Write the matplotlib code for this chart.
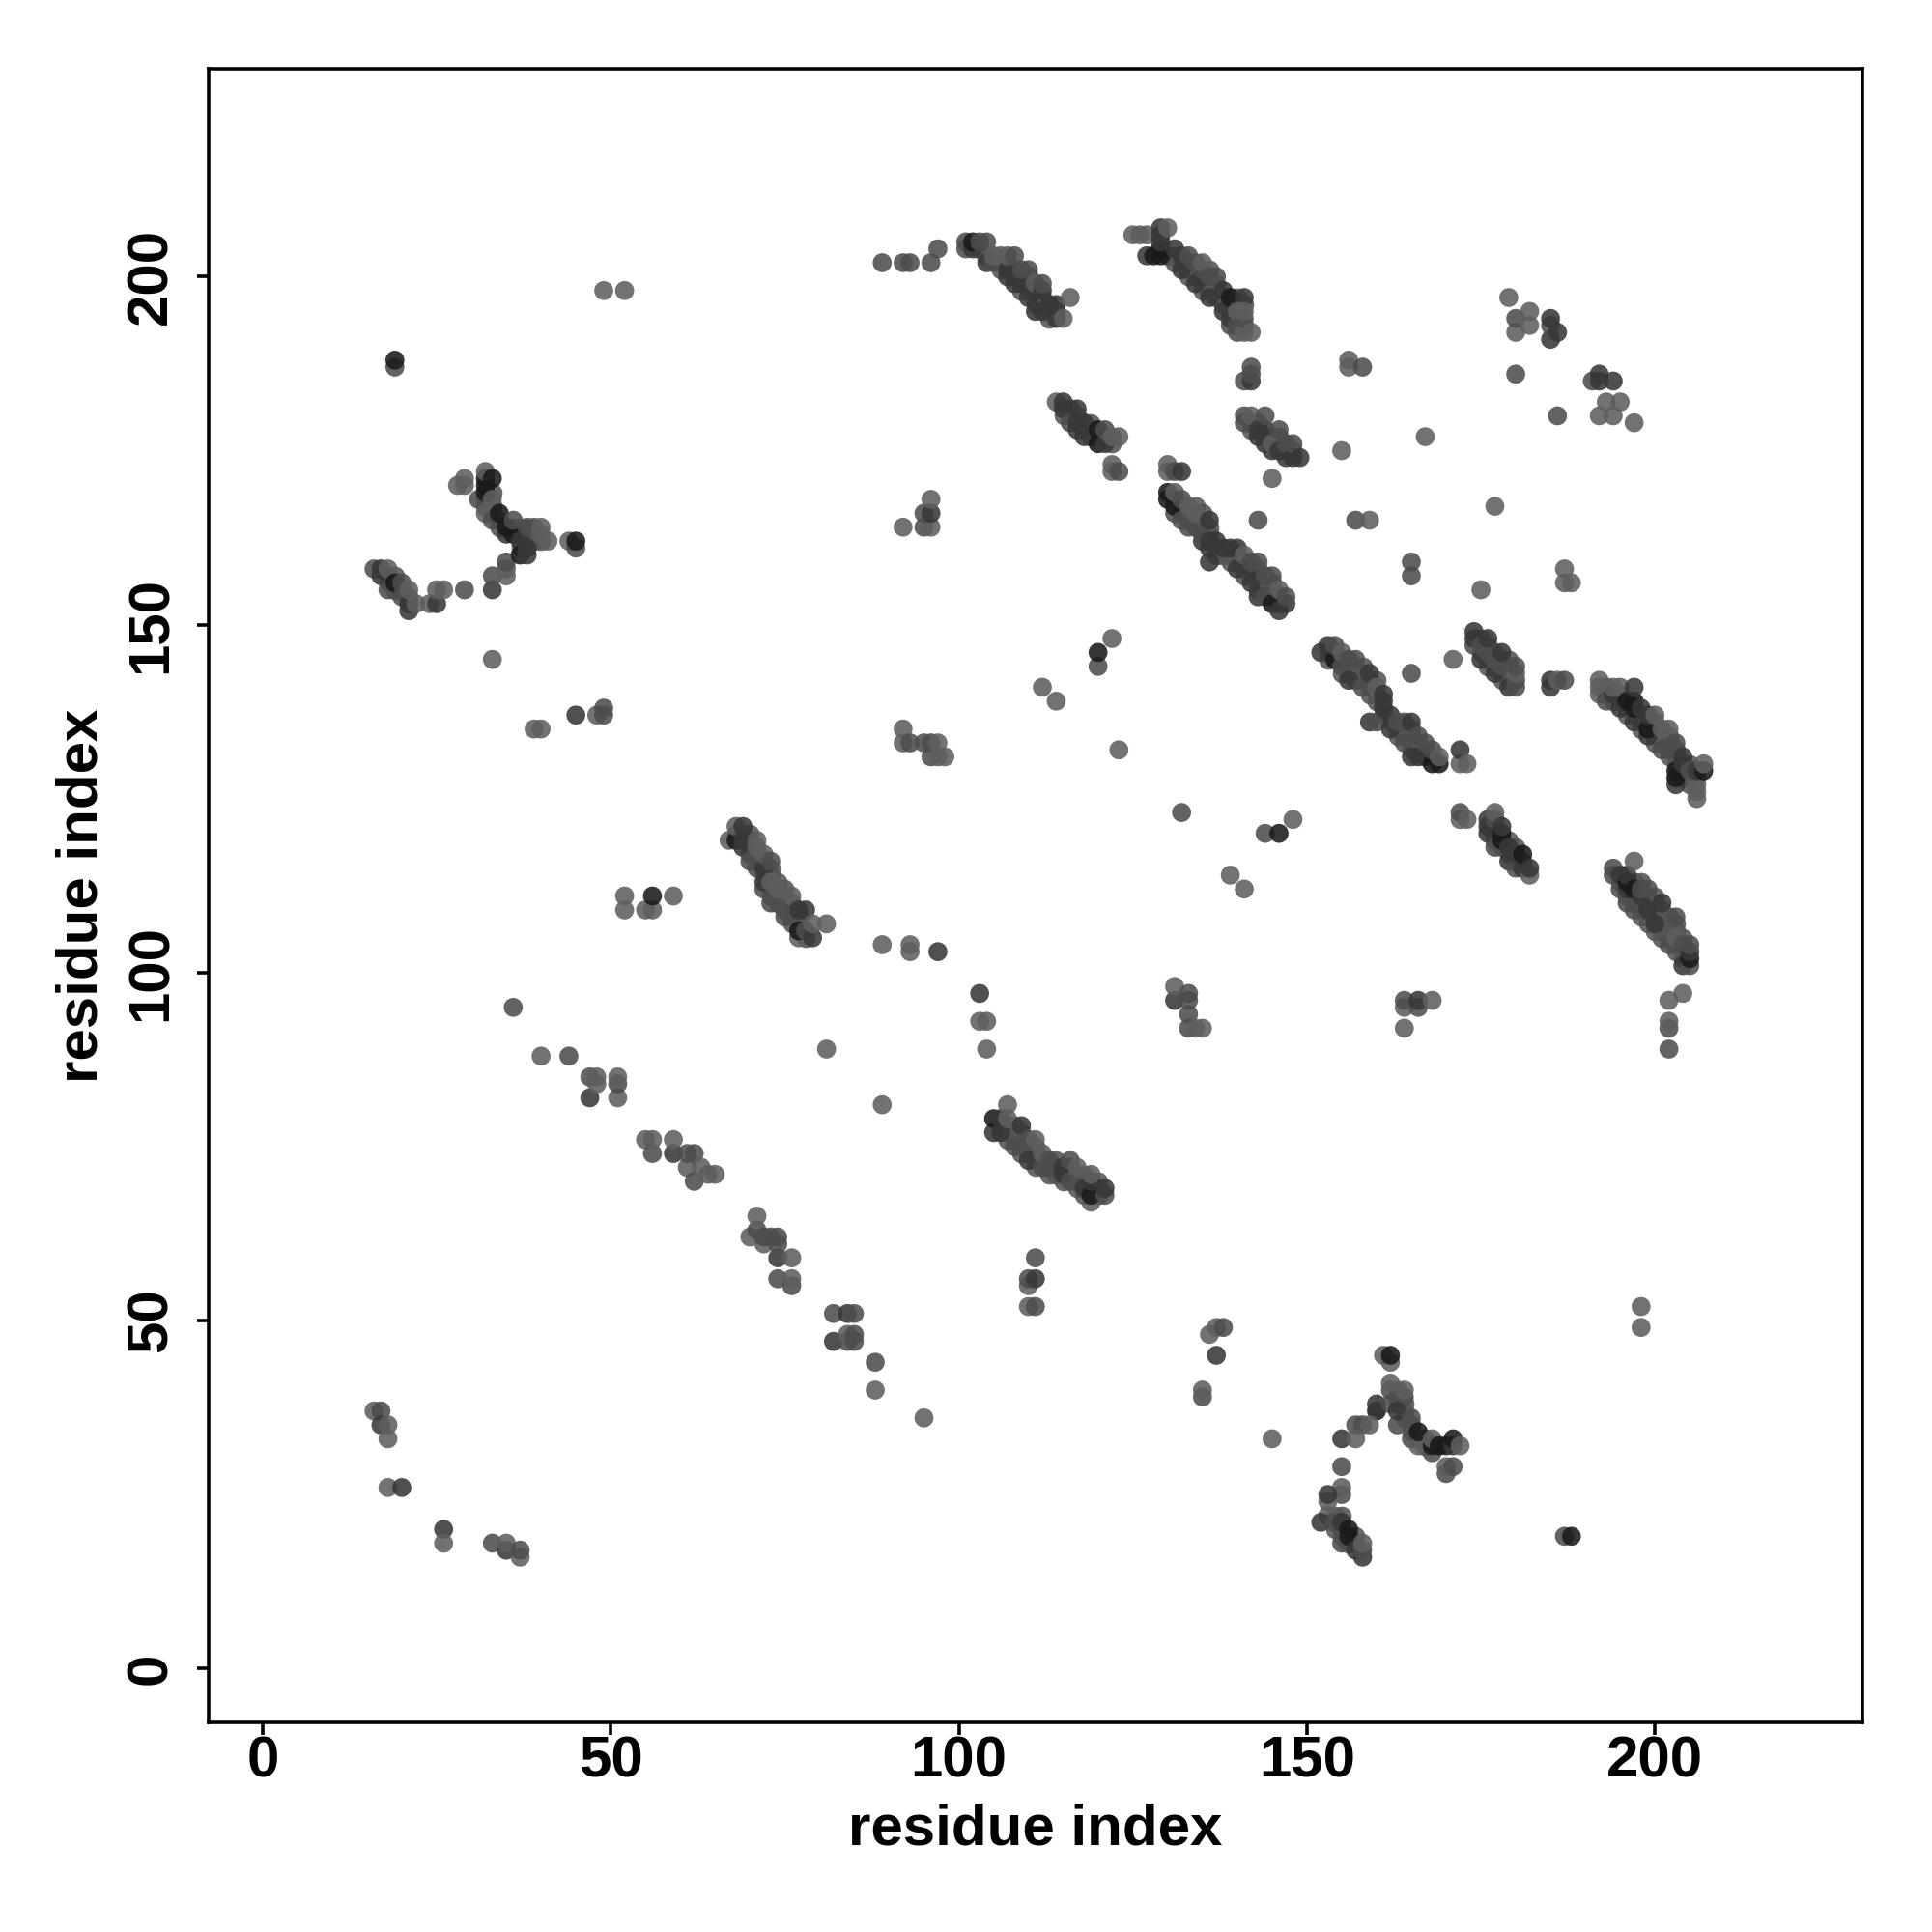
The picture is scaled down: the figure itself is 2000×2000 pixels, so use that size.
import numpy as np
import matplotlib
matplotlib.use("Agg")
import matplotlib.pyplot as plt

# contacts as (residue i, residue j, score); score 1 = weak ... 4 = strong
band_top_left = [(89,202,2),(92,202,2),(93,202,2),(96,202,2),(97,204,2),
    (101,204,2),(101,205,2),(102,204,3),(102,205,4),(103,205,2),(104,205,2),(104,202,3),
    (105,202,2),(105,203,1),(106,203,1),(107,201,3),(107,200,3),(107,203,1),(108,199,3),(108,203,2),
    (109,199,3),(109,201,2),(110,197,3),(110,201,2),(111,195,3),(111,198,3),(111,199,1),
    (112,195,3),(112,198,3),(112,199,2),(113,196,3),(114,194,3),(114,196,3),(115,194,1),(116,197,1)]
band_top_mid = [(125,206,1),(126,206,1),(127,206,1),(127,203,3),(128,203,4),(129,203,4),
    (129,204,4),(129,205,3),(129,206,3),(129,207,3),(130,207,1),(131,204,3),(132,201,3),(132,203,3),
    (133,203,2),(134,199,3),(134,202,2),(135,200,3),(135,201,2),(135,202,1),(136,197,3),(136,200,2),
    (137,200,2),(138,195,3),(138,198,3),(139,193,2),(139,194,3),(139,197,4),(141,197,3),
    (140,192,2),(140,193,2),(140,195,1),(141,192,1),(141,194,2),(141,195,1),(142,192,1),
    (141,185,2),(142,185,3),(142,186,2),(142,187,2)]
band_c = [(114,182,1),(115,181,3),(115,182,3),(116,179,2),(117,178,3),(117,179,3),(117,181,3),
    (118,177,3),(118,179,3),(120,176,4),(120,178,4),(121,176,3),(121,178,2),(122,177,1),(123,177,1),
    (122,173,1),(122,172,1),(123,172,2)]
band_d = [(141,179,2),(141,180,2),(142,180,1),(143,177,3),(143,178,3),(144,176,3),(144,178,3),(144,180,2),
    (145,175,3),(145,176,1),(146,175,3),(146,178,2),(147,174,3),(147,176,2),(148,174,3),(148,176,2),(149,174,3)]
band_e = [(130,172,1),(130,173,1),(131,172,2),(132,172,3),
    (130,168,4),(130,169,4),(131,166,2),(131,167,4),(131,169,1),(132,165,2),(132,168,2),(133,164,2),(133,167,1),
    (134,166,1),(135,162,3),(135,163,2),(136,159,3),(136,161,3),(136,162,3),(136,165,3),(137,162,3),(138,161,3),
    (139,161,3),(140,158,3),(140,161,3),(141,160,1),(142,156,3),(142,158,3),(142,159,2),(143,154,3),(143,159,2),
    (144,154,2),(144,157,2),(145,153,4),(145,157,2),(146,152,3),(146,155,1),(147,153,3),(147,154,2)]
band_f = [(152,146,3),(153,147,3),(154,145,4),(154,147,2),(155,144,2),(155,146,1),(156,142,3),(156,145,2),(157,145,2),
    (158,141,2),(159,136,3),(160,136,2),(159,143,3),(160,141,1),(161,138,3),(161,139,3),(161,140,3),(162,135,3),(162,137,3),
    (163,136,2),(164,133,2),(164,136,2),(165,131,3),(165,136,3),(166,131,3),(166,134,2),(167,131,3),(167,133,2),
    (168,130,4),(168,132,2),(169,130,4),(169,131,1),(172,130,1),(172,132,3),(173,130,1)]
band_g = [(174,147,2),(174,148,3),(174,149,3),(175,145,3),(175,147,2),(176,146,2),(176,148,3),(177,143,3),(177,145,2),
    (178,144,2),(178,146,3),(179,141,3),(180,141,2),(180,142,2),(180,143,1),(180,144,2),(171,145,1),(165,143,2),
    (185,141,3),(185,142,3),(186,142,1),(187,142,2)]
band_h = [(172,122,1),(172,123,2),(173,122,1),(176,120,3),(176,121,3),(176,122,3),(177,118,2),(177,122,2),(177,123,1),
    (178,119,4),(178,120,4),(178,121,3),(179,116,3),(179,118,3),(180,115,2),(180,117,3),(181,115,3),(181,117,4),(182,114,1),(182,115,3)]
band_i = [(192,140,1),(192,141,1),(192,142,1),(193,139,2),(194,140,3),(194,141,1),(195,138,3),(195,141,1),(196,139,4),
    (197,136,3),(197,138,4),(197,139,4),(197,141,3),(198,138,3),(199,134,3),(199,135,4),(199,137,3),(200,137,1),
    (201,132,2),(201,135,1),(202,132,2),(202,135,1),(203,133,2),(203,127,3),(203,128,4),(203,129,4),(204,130,3),(204,131,3),
    (206,125,1),(206,126,1),(206,127,1),(206,128,1),(205,129,2),(206,129,3),(207,129,4),(207,130,1)]
band_j = [(194,114,2),(194,115,2),(195,112,2),(195,114,3),(196,110,2),(196,112,3),(196,113,4),(196,114,3),(197,116,1),
    (197,109,2),(197,112,4),(198,111,3),(198,112,2),(199,109,3),(199,112,2),(200,107,3),(201,110,3),(202,104,2),(203,105,1),
    (203,108,2),(204,101,3),(204,104,2),(205,101,2),(205,102,4),(205,103,3),(205,104,2)]
band_k = [(67,119,1),(68,119,4),(68,121,1),(69,118,3),(69,119,3),(69,121,3),(70,116,2),(70,119,3),(71,115,2),(71,118,1),(71,119,1),
    (72,112,2),(72,113,3),(72,115,3),(72,117,1),(73,110,2),(73,113,1),(73,116,2),(74,112,1),(75,108,2),(76,110,2),(76,111,1),
    (77,105,1),(77,106,4),(77,109,3),(78,106,2),(78,109,3),(79,105,3),(79,107,1),(81,107,1)]
band_l = [(105,77,3),(105,79,4),(106,77,3),(106,79,3),(107,79,1),(107,81,1),(108,75,2),(109,78,3),(110,73,3),(110,76,2),(111,76,1),
    (112,72,2),(112,74,1),(113,72,2),(113,73,2),(115,71,3),(115,72,3),(116,70,2),(116,73,2),(117,72,1),(118,69,3),(119,67,1),(119,68,4),
    (119,70,3),(119,71,1),(121,68,2),(121,69,3)]
cluster_left = [(16,158,2),(17,157,3),(17,158,3),(18,155,2),(18,158,1),(19,156,4),(20,154,2),(20,156,2),(21,152,3),(21,153,3),(21,155,1),
    (22,153,1),(24,153,1),(25,153,3),(25,155,1),(26,155,1),(29,155,2),(33,155,3),(33,145,1),(33,157,2),(35,157,1),(35,158,1),(35,159,2),
    (28,170,1),(29,170,1),(29,171,1),(31,168,2),(32,166,1),(32,169,4),(32,170,4),(32,171,4),(32,172,1),(33,171,4),(33,165,2),(33,168,1),
    (34,166,4),(35,163,3),(35,164,4),(36,163,4),(36,165,2),(37,162,3),(37,160,4),(38,160,3),(38,161,3),(38,164,2),(39,164,2),(40,163,1),(40,164,1),(41,162,1),
    (44,162,1),(45,161,2),(45,162,4),(45,137,3),(48,137,1),(49,137,2),(49,138,2),(39,135,1),(40,135,1),(19,187,2),(19,188,4),(49,198,1),(52,198,1)]
scatter_mid_left = [(36,95,2),(40,88,1),(44,88,2),(47,82,3),(47,85,2),(48,84,1),(48,85,1),(51,82,1),(51,84,2),(51,85,1),(55,76,1),(56,74,2),(56,76,1),
    (59,74,3),(59,76,1),(61,72,1),(61,74,2),(62,70,2),(62,74,2),(63,72,1),(64,71,1),(65,71,1),
    (52,109,1),(52,111,1),(55,109,1),(56,109,1),(56,111,4),(59,111,1)]
cluster_lower = [(70,62,1),(71,63,2),(71,65,1),(72,61,1),(72,62,2),(73,62,2),(74,59,3),(74,61,2),(74,62,2),(76,59,1),(74,56,2),(76,55,2),(76,56,1),
    (82,47,3),(82,51,2),(84,47,2),(84,48,1),(84,51,3),(85,47,2),(85,48,2),(85,51,2),(88,44,2),(88,40,1),(95,36,1),
    (16,37,1),(17,37,2),(17,35,3),(18,35,1),(18,33,1),(18,26,1),(20,26,3),(26,20,3),(26,18,1),(33,18,2),(35,17,3),(35,18,1),(37,16,1),(37,17,2)]
scatter_center = [(112,141,1),(114,139,1),(120,144,2),(120,146,4),(122,148,1),(123,132,1),(92,133,1),(92,135,1),(93,133,2),(95,133,2),(96,131,2),(96,133,2),(97,131,1),(97,133,1),(98,131,1),
    (92,164,1),(95,164,2),(96,164,1),(95,166,2),(96,166,3),(96,168,1),(81,89,1),(89,81,1),(89,104,1),(93,103,1),(93,104,1),(97,103,3),(103,97,3),(103,93,1),(104,93,1),(104,89,1),
    (110,52,1),(111,52,2),(110,55,1),(110,56,2),(111,56,3),(111,59,2),(131,96,3),(131,98,1),(133,92,2),(133,94,2),(133,96,2),(133,97,2),(134,92,1),(135,92,1),
    (132,123,2),(144,120,2),(146,120,4),(148,122,1),(139,114,1),(141,112,1)]
scatter_right = [(179,197,1),(180,186,2),(180,192,1),(180,194,2),(182,193,1),(182,195,1),(185,191,3),(185,193,2),(185,194,3),(186,192,3),(191,185,2),(192,185,3),(192,186,3),(194,185,3),
    (193,182,1),(195,182,1),(186,180,2),(192,180,1),(194,180,1),(197,179,1),(167,177,1),(155,175,1),(177,167,1),(157,165,2),(159,165,1),(165,157,2),(165,159,2),(143,165,2),(145,171,1),
    (187,156,1),(187,158,1),(188,156,1),(175,155,1),(156,187,1),(156,188,1),(158,187,2),
    (164,92,1),(164,95,1),(164,96,2),(166,95,2),(166,96,3),(168,96,1),(204,97,1),(202,96,1),(202,92,2),(202,93,1),(202,89,2),(198,52,1),(198,49,1),(187,19,2),(188,19,4),
    (136,48,1),(137,45,3),(137,49,1),(138,49,2),(135,39,2),(135,40,1),(145,33,1)]
cluster_bottom = [(161,45,1),(162,44,1),(162,45,4),(162,40,2),(162,41,1),(164,39,2),(164,40,1),(160,37,4),(160,38,3),(162,38,2),(163,35,2),(163,37,3),(165,36,2),
    (157,35,2),(158,35,2),(159,35,1),(155,33,3),(157,33,1),(165,33,2),(166,32,1),(166,34,4),(168,31,2),(168,32,4),(168,33,1),(169,32,4),(170,32,4),(171,32,3),(171,33,4),(172,32,1),
    (170,28,2),(170,29,1),(171,29,2),(155,29,2),(155,25,2),(155,26,1),(153,22,1),(153,24,1),(153,25,3),(152,21,3),(154,21,2),(155,20,2),(155,21,3),(156,20,4),(155,18,2),(156,19,4),
    (157,17,3),(158,16,3),(158,17,2),(158,18,1)]

# contacts hidden inside the bands, estimated from the band width (drawn underneath)
inner_top = [(103,204),(104,203),(106,201),(106,202),(108,200),(108,201),(109,198),(109,200),(110,198),(110,199),(110,200),(111,196),(111,197),
    (112,196),(112,197),(113,194),(113,195),(114,195),
    (130,203),(131,202),(131,203),(132,202),(133,200),(133,201),(133,202),(134,200),(134,201),(135,198),(135,199),(136,198),(136,199),(136,201),
    (137,197),(137,198),(137,199),(138,196),(138,197),(139,195),(139,196),(140,194),(140,196),(140,197),(141,193),(141,196)]
inner_upper = [(115,180),(116,180),(116,181),(117,180),(118,178),(119,177),(119,178),(119,179),(120,177),(121,177),(122,176),
    (142,178),(142,179),(143,179),(144,177),(145,177),(146,176),(146,177),(147,175),(148,175),
    (131,168),(132,166),(132,167),(133,165),(133,166),(134,164),(134,165),(134,167),(135,164),(135,165),(135,166),(136,163),(136,164),(137,160),(137,161),
    (138,160),(139,159),(139,160),(140,159),(140,160),(141,157),(141,158),(141,159),(142,157),(143,155),(143,156),(143,157),(143,158),(144,155),(144,156),
    (145,154),(145,155),(145,156),(146,153),(146,154)]
inner_right = [(153,145),(153,146),(154,146),(155,143),(155,145),(156,143),(156,144),(157,142),(157,143),(157,144),(158,142),(158,143),(158,144),(159,140),(159,141),
    (159,142),(160,139),(160,140),(160,142),(161,137),(162,136),(163,134),(163,135),(164,134),(164,135),(165,132),(165,133),(165,134),(165,135),(166,132),(166,133),(167,132),(168,131),
    (175,146),(175,148),(176,144),(176,145),(176,147),(177,144),(177,146),(178,142),(178,143),(178,145),(179,142),(179,143),(179,144),(179,145),
    (177,119),(177,120),(177,121),(178,118),(179,117),(179,119),(180,116),(180,118),(181,116),
    (193,140),(193,141),(194,139),(195,139),(195,140),(196,137),(196,138),(197,137),(198,135),(198,136),(198,137),(199,136),(200,133),(200,134),(200,135),(200,136),(201,133),(201,134),
    (202,131),(202,133),(202,134),(203,130),(203,131),(203,132),(204,128),(204,129),(205,127),(205,128),(205,130),
    (195,113),(196,111),(197,110),(197,111),(197,113),(198,108),(198,109),(198,110),(198,113),(199,107),(199,108),(199,110),(199,111),(200,106),(200,108),(200,109),(200,110),(200,111),
    (201,105),(201,106),(201,107),(201,108),(201,109),(202,105),(202,106),(202,107),(202,108),(203,103),(203,104),(203,106),(203,107),(204,102),(204,103),(204,105)]
inner_low = [(68,120),(69,120),(70,117),(70,118),(70,120),(71,116),(71,117),(72,114),(72,116),(73,111),(73,112),(73,114),(73,115),(74,110),(74,111),(74,113),(75,109),(75,110),(75,111),(75,112),
    (76,107),(76,108),(76,109),(77,107),(77,108),(78,105),
    (106,78),(107,76),(107,77),(107,78),(108,76),(108,77),(108,78),(109,74),(109,75),(109,76),(109,77),(110,74),(110,75),(111,72),(111,73),(111,74),(111,75),(112,73),(113,71),(114,71),(114,72),(114,73),
    (115,70),(116,71),(116,72),(117,69),(117,70),(117,71),(118,68),(118,70),(118,71),(120,68),(120,69),(120,70),
    (34,164),(34,165),(36,164),(37,161),(37,163),(37,164),(38,162),(38,163),(39,162),(39,163),(40,162),(33,166),(33,167),(18,156),(18,157),(19,155),(19,157),(20,155),(21,154),(32,167),(32,168),(33,169),
    (163,38),(163,39),(163,40),(164,36),(164,37),(164,38),(165,34),(165,35),(166,33),(167,32),(167,33),(154,20),(155,19),(155,22),(156,18),(157,18),(157,19),(154,22)]

tick_values = [0, 50, 100, 150, 200]
axis_label = "residue index"

contacts = np.array(band_top_left + band_top_mid + band_c + band_d + band_e + band_f + band_g + band_h + band_i
                    + band_j + band_k + band_l + cluster_left + scatter_mid_left + cluster_lower
                    + scatter_center + scatter_right + cluster_bottom)
inner = np.array(inner_top + inner_upper + inner_right + inner_low)

plt.rcParams['font.family'] = ['Liberation Sans', 'DejaVu Sans']
plt.rcParams['font.weight'] = 'bold'

greys = {1: 0.37, 2: 0.30, 3: 0.22, 4: 0.10}
colors = [(greys[s], greys[s], greys[s]) for s in contacts[:, 2]]

fig = plt.figure(figsize=(10, 10), dpi=200)
ax = fig.add_axes([216 / 2000, 1 - 1783 / 2000, (1928 - 216) / 2000, (1783 - 71) / 2000])
ax.scatter(inner[:, 0], inner[:, 1], s=50, c=[(0.33, 0.33, 0.33)], alpha=0.88, linewidths=0, zorder=2)
ax.scatter(contacts[:, 0], contacts[:, 1], s=50, c=colors, alpha=0.88, linewidths=0, zorder=3)
ax.set_xlim(-7.75, 229.8)
ax.set_ylim(-7.75, 229.9)
ax.set_xticks(tick_values)
ax.set_yticks(tick_values)
ax.tick_params(axis='both', length=4.5, width=1.3, labelsize=21.6)
ax.tick_params(axis='x', pad=0.4)
ax.tick_params(axis='y', pad=6.8)
plt.setp(ax.get_yticklabels(), rotation=90, va='center')
ax.set_xlabel(axis_label, fontsize=21.6, fontweight='bold', labelpad=5.4)
ax.set_ylabel(axis_label, fontsize=21.6, fontweight='bold', labelpad=6.2)
for sp in ax.spines.values():
    sp.set_linewidth(1.3)
fig.savefig("out.png", dpi=200)
